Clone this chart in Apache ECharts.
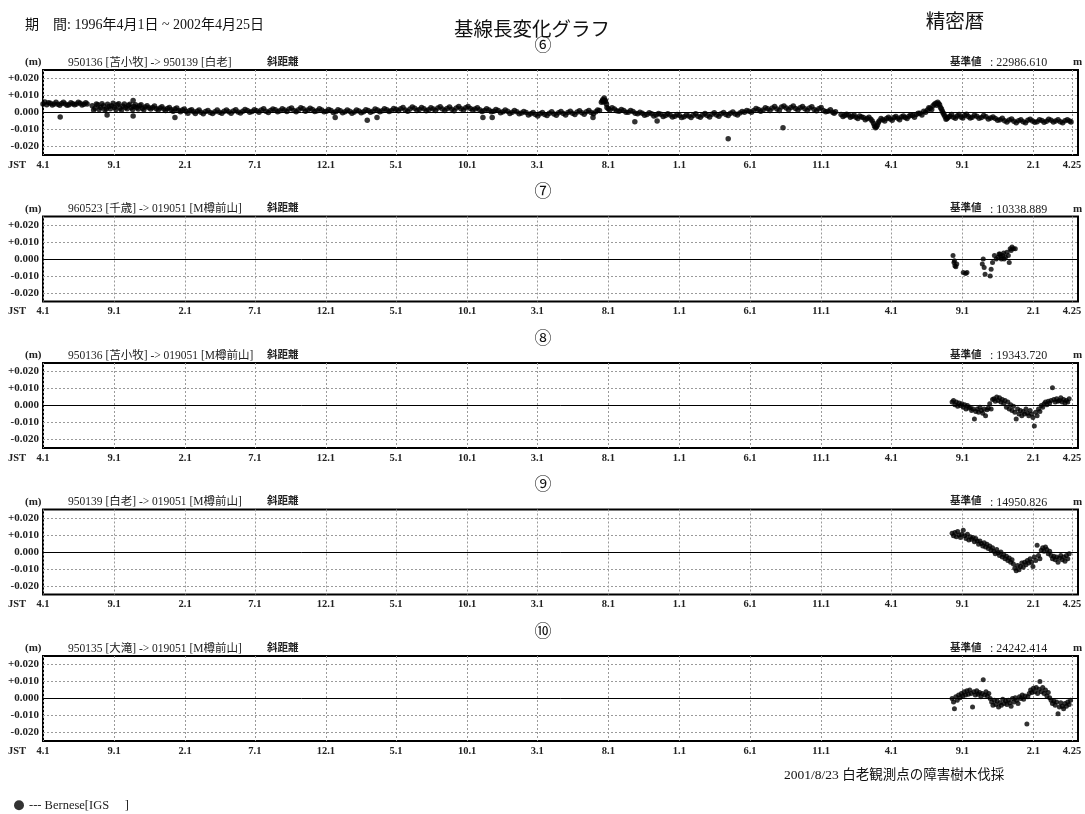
<!DOCTYPE html>
<html>
<head>
<meta charset="utf-8">
<script src="https://cdn.jsdelivr.net/npm/echarts@6/dist/echarts.min.js"></script>
<style>
html,body{margin:0;padding:0;background:#fff;}
#chart{width:1085px;height:814px;}
</style>
</head>
<body>
<div id="chart"></div>
<script>
// ---------- data ----------
const periodText = '期\u3000間: 1996年4月1日 ~ 2002年4月25日';
const chartTitle = '基線長変化グラフ';
const ephemerisText = '精密暦';
const panelCodes = ['⑥', '⑦', '⑧', '⑨', '⑩'];
const baselineNames = [
  '950136 [苫小牧] -> 950139 [白老]',
  '960523 [千歳] -> 019051 [M樽前山]',
  '950136 [苫小牧] -> 019051 [M樽前山]',
  '950139 [白老] -> 019051 [M樽前山]',
  '950135 [大滝] -> 019051 [M樽前山]'
];
const baseValues = ['22986.610', '10338.889', '19343.720', '14950.826', '24242.414'];
const noteText = '2001/8/23 白老観測点の障害樹木伐採';
const seriesName = 'Bernese[IGS     ]';

// days since 1996-04-01
const tickDays = [0, 153, 306, 456, 609, 760, 913, 1064, 1217, 1370, 1522, 1675, 1826, 1979, 2132, 2215];
const tickLabels = ['4.1', '9.1', '2.1', '7.1', '12.1', '5.1', '10.1', '3.1', '8.1', '1.1', '6.1', '11.1', '4.1', '9.1', '2.1', '4.25'];
const yTicks = [-0.02, -0.01, 0, 0.01, 0.02];

const data6 = [
[0,0.005],[4,0.0062],[8,0.0045],[12,0.0058],[16,0.0055],[20,0.0044],[24,0.005],[28,0.006],[32,0.0048],[36,0.0042],[40,0.0053],[44,0.0061],[48,0.005],[52,0.0043],[56,0.0046],[60,0.0058],[64,0.0052],[68,0.0045],[72,0.005],[76,0.006],[80,0.0055],[84,0.0044],[88,0.0049],[92,0.0057],[95,0.005],
[37,-0.0027],
[106,0.004],[109,0.0015],[112,0.0025],[115,0.005],[118,0.0045],[121,0.0018],[124,0.003],[127,0.0052],[130,0.004],[133,0.0016],[136,0.002],[139,0.0048],[142,0.0035],[145,0.0022],[148,0.004],[151,0.0055],[154,0.003],[157,0.0018],[160,0.0045],[163,0.0052],[166,0.0025],[169,0.0015],[172,0.0038],[175,0.005],[178,0.003],[181,0.0022],[184,0.0042],[187,0.0048],[190,0.0028],[193,0.0018],[196,0.0035],[199,0.0045],[202,0.003],[205,0.002],[208,0.004],[211,0.0046],[214,0.0025],[217,0.0016],[220,0.0032],[224,0.004],[228,0.0028],[232,0.002],[236,0.003],[240,0.0038],[244,0.0022],[248,0.0015],[252,0.0026],[256,0.0034],[260,0.002],[264,0.0012],[268,0.0024],[272,0.003],[276,0.0016],[280,0.0008],[284,0.002],[288,0.0026],[292,0.0012],[296,0.0004],[300,0.0015],[304,0.002],
[308,0.0008],[312,-0.0004],[316,0.0012],[320,0.0016],[324,0.0004],[328,-0.0006],[332,0.0008],[336,0.0014],[340,0.0002],[345,-0.0008],[350,0.0006],[355,0.0012],[360,0.0],[365,-0.0006],[370,0.0005],[375,0.0014],[380,0.0002],[385,-0.0005],[390,0.0008],[395,0.0015],[400,0.0004],[405,-0.0004],[410,0.0009],[415,0.0016],[420,0.0003],[425,-0.0003],[430,0.0007],[435,0.0018],[440,0.0012],[445,0.0002],[450,0.0006],[455,0.0016],[460,0.001],[465,0.0002],[470,0.0014],[475,0.0022],[480,0.0008],[485,0.0],[490,0.0012],[495,0.002],[500,0.0016],[505,0.0004],[510,0.001],[515,0.0022],[520,0.0015],[525,0.0006],[530,0.002],[535,0.0026],[540,0.0012],[545,0.0005],[550,0.0016],[555,0.0028],[560,0.0022],[565,0.0008],[570,0.0014],[575,0.0025],[580,0.0018],[585,0.0006],[590,0.001],[595,0.0022],[600,0.0015],[605,0.0004],
[610,0.0008],[615,0.0018],[620,0.0012],[625,0.0],[630,0.0005],[635,0.0016],[640,0.001],[645,-0.0002],[650,0.0004],[655,0.0014],[660,0.0008],[665,-0.0004],[670,0.0003],[675,0.0015],[680,0.0009],[685,-0.0002],[690,0.0005],[695,0.0016],[700,0.0012],[705,0.0002],[710,0.0008],[715,0.002],[720,0.0014],[725,0.0004],[730,0.001],[735,0.0022],[740,0.0016],[745,0.0006],[750,0.0012],[755,0.0024],[760,0.0018],[765,0.001],[770,0.0022],[775,0.003],[780,0.0015],[785,0.0008],[790,0.002],[795,0.0032],[800,0.0025],[805,0.0012],[810,0.0018],[815,0.003],[820,0.0022],[825,0.001],[830,0.0016],[835,0.0028],[840,0.0021],[845,0.0012],[850,0.0026],[855,0.0034],[860,0.002],[865,0.0012],[870,0.0024],[875,0.0032],[880,0.0019],[885,0.001],[890,0.0026],[895,0.0035],[900,0.0022],[905,0.0014],[910,0.0028],[915,0.0036],[920,0.0024],[925,0.0014],
[930,0.002],[935,0.0028],[940,0.0016],[945,0.0006],[950,0.0012],[955,0.0022],[960,0.0015],[965,0.0004],[970,0.0008],[975,0.0018],[980,0.0012],[985,-0.0002],[990,0.0005],[995,0.0014],[1000,0.0008],[1005,-0.0006],[1010,0.0002],[1015,0.0012],[1020,0.0004],[1025,-0.0008],[1030,-0.0003],[1035,0.0006],[1040,0.0],[1045,-0.0015],[1050,-0.0008],[1055,0.0],[1060,-0.0012],[1065,-0.002],[1070,-0.0008],[1075,0.0],[1080,-0.0012],[1085,-0.0018],[1090,-0.0005],[1095,0.0004],[1100,-0.0009],[1105,-0.0016],[1110,-0.0002],[1115,0.0006],[1120,-0.0006],[1125,-0.0014],[1130,0.0],[1135,0.0008],[1140,-0.0004],[1145,-0.0012],[1150,0.0003],[1155,0.001],[1160,-0.0002],[1165,-0.001],[1170,0.0004],[1175,0.0012],[1180,0.0],[1185,-0.0008],[1190,0.0005],[1194,0.0014],[1198,0.0012],
[1202,0.006],[1204,0.0068],[1205,0.0075],[1207,0.0062],[1208,0.0085],[1210,0.0072],[1211,0.0065],[1213,0.0048],[1214,0.003],[1217,0.0022],[1220,0.0015],[1225,0.0028],[1230,0.002],[1235,0.001],[1240,0.0008],[1245,0.0018],[1250,0.0012],[1255,0.0002],[1260,0.0002],[1265,0.0012],[1270,0.0006],[1275,-0.0004],[1280,-0.0008],[1285,0.0002],[1290,-0.0004],[1295,-0.0016],[1300,-0.0012],[1305,-0.0002],[1310,-0.0008],[1315,-0.002],[1320,-0.0015],[1325,-0.0006],[1330,-0.001],[1335,-0.0024],[1340,-0.0018],[1345,-0.0008],[1350,-0.0014],[1355,-0.0026],[1360,-0.0022],[1365,-0.0012],[1370,-0.0018],[1375,-0.003],[1380,-0.0025],[1385,-0.0014],[1390,-0.002],[1395,-0.003],[1400,-0.0016],[1405,-0.0008],[1410,-0.0022],[1415,-0.0028],[1420,-0.0014],[1425,-0.0006],[1430,-0.0018],[1435,-0.0026],[1440,-0.001],[1445,-0.0002],[1450,-0.0015],[1455,-0.0022],[1460,-0.0008],[1465,0.0],[1470,-0.0012],[1475,-0.0018],[1480,-0.0005],[1485,0.0003],[1490,-0.0009],[1495,-0.0014],[1500,-0.0003],[1505,0.0006],
[1510,0.0002],[1515,0.0012],[1520,0.0008],[1525,0.0002],[1530,0.0012],[1535,0.0024],[1540,0.0018],[1545,0.0008],[1550,0.0014],[1555,0.0028],[1560,0.0022],[1565,0.0012],[1570,0.0026],[1575,0.0036],[1580,0.002],[1585,0.0012],[1590,0.0032],[1595,0.0038],[1600,0.0026],[1605,0.0016],[1610,0.003],[1615,0.0038],[1620,0.0024],[1625,0.0014],[1630,0.0028],[1635,0.0036],[1640,0.0022],[1645,0.0012],[1650,0.0026],[1655,0.0034],[1660,0.0018],[1665,0.001],[1670,0.0022],[1675,0.003],[1680,0.0012],[1685,0.0004],[1690,0.0008],[1695,0.0016],[1700,0.0002],[1703,-0.0004],[1706,0.0005],
[1718,-0.0012],[1722,-0.0024],[1726,-0.0018],[1730,-0.001],[1734,-0.0015],[1738,-0.0028],[1742,-0.0022],[1746,-0.0014],[1750,-0.0028],[1754,-0.0036],[1758,-0.002],[1762,-0.0026],[1766,-0.003],[1770,-0.0042],[1774,-0.0035],[1778,-0.0028],[1782,-0.004],[1785,-0.005],[1788,-0.0065],[1790,-0.008],[1792,-0.009],[1794,-0.0085],[1796,-0.0075],[1798,-0.006],[1800,-0.005],[1804,-0.0036],[1808,-0.0042],[1812,-0.005],[1816,-0.0035],[1820,-0.0028],[1824,-0.0038],[1828,-0.0045],[1832,-0.003],[1836,-0.0024],[1840,-0.0034],[1844,-0.0042],[1848,-0.0026],[1852,-0.002],[1856,-0.003],[1860,-0.0036],[1864,-0.0022],[1868,-0.0014],[1872,-0.0018],[1876,-0.0028],[1880,-0.0012],[1884,-0.0004],[1888,-0.0005],[1892,-0.0014],
[1896,0.0008],[1900,0.0002],[1904,0.0015],[1907,0.0028],[1910,0.0025],[1913,0.0018],[1916,0.004],[1919,0.0048],[1922,0.0055],[1924,0.0042],[1926,0.006],[1928,0.0052],[1930,0.0045],[1932,0.003],[1934,0.002],[1936,0.0008],[1938,-0.0005],[1940,-0.0015],[1942,-0.0025],[1944,-0.004],[1946,-0.0035],[1949,-0.0028],[1952,-0.0022],[1956,-0.0012],[1960,-0.0028],[1964,-0.0034],[1968,-0.002],[1972,-0.0012],[1976,-0.0026],[1980,-0.0032],[1984,-0.0018],[1988,-0.001],[1992,-0.0024],[1996,-0.0032],[2000,-0.0028],[2005,-0.0016],[2010,-0.0022],[2015,-0.0034],[2020,-0.003],[2025,-0.0018],[2030,-0.0025],[2035,-0.0038],[2040,-0.0032],[2045,-0.0026],[2050,-0.0036],[2055,-0.0046],[2060,-0.0042],[2065,-0.0034],[2070,-0.0048],[2075,-0.0056],[2080,-0.0044],[2085,-0.0038],[2090,-0.0052],[2095,-0.006],[2100,-0.0048],[2105,-0.0042],[2110,-0.0054],[2115,-0.006],[2120,-0.0046],[2125,-0.004],[2130,-0.005],[2135,-0.0058],[2140,-0.0055],[2145,-0.0042],[2150,-0.0047],[2155,-0.0058],[2160,-0.0052],[2165,-0.004],[2170,-0.0045],[2175,-0.0056],[2180,-0.005],[2185,-0.0042],[2190,-0.0054],[2195,-0.006],[2200,-0.0048],[2205,-0.0042],[2210,-0.005],[2213,-0.0056],
[194,-0.002],[194,0.007],[138,-0.0015],[284,-0.003],[629,-0.003],[698,-0.0045],[719,-0.003],[947,-0.003],[967,-0.003],[1184,-0.003],[1274,-0.0055],[1322,-0.005],[1475,-0.0155],[1593,-0.009]
];

const data7 = [
[1959,0.002],[1961,-0.002],[1962,-0.001],[1963,-0.004],[1965,-0.0045],[1967,-0.003],[1981,-0.008],[1986,-0.0085],[1989,-0.008],[2022,-0.003],[2024,0.0],[2026,-0.005],[2028,-0.009],[2039,-0.01],[2041,-0.006],[2044,-0.002],[2048,0.002],[2052,0.0],[2056,0.001],[2058,0.003],[2060,0.003],[2062,0.0015],[2063,0.0],[2066,0.002],[2068,0.0035],[2069,0.0],[2072,0.001],[2075,0.004],[2078,0.002],[2080,-0.002],[2082,0.006],[2084,0.005],[2086,0.007],[2089,0.006],[2093,0.006]
];

const data8 = [
[1957,0.002],[1960,0.003],[1963,0.0005],[1966,0.002],[1969,-0.0005],[1972,0.0015],[1975,0.0],[1978,0.001],[1981,-0.001],[1984,0.0005],[1987,-0.002],[1990,0.0],[1993,-0.0015],[1996,-0.001],[1999,-0.003],[2002,-0.002],[2005,-0.008],[2008,-0.0035],[2011,-0.002],[2014,-0.004],[2017,-0.001],[2020,-0.003],[2023,-0.0045],[2026,-0.002],[2029,-0.006],[2032,-0.0025],[2035,-0.0015],[2038,0.001],[2041,-0.002],[2044,0.0035],[2047,0.004],[2050,0.0025],[2053,0.005],[2056,0.003],[2059,0.0045],[2062,0.002],[2065,0.0035],[2068,0.001],[2071,0.003],[2074,-0.001],[2077,0.002],[2080,-0.002],[2083,0.0005],[2086,-0.003],[2089,-0.0005],[2092,-0.004],[2095,-0.008],[2098,-0.002],[2101,-0.005],[2104,-0.003],[2107,-0.006],[2110,-0.0035],[2113,-0.005],[2116,-0.002],[2119,-0.0045],[2122,-0.006],[2125,-0.003],[2128,-0.005],[2131,-0.007],[2134,-0.012],[2137,-0.004],[2140,-0.006],[2143,-0.002],[2146,-0.0035],[2149,0.0],[2152,-0.001],[2155,0.001],[2158,0.002],[2161,0.0005],[2164,0.0025],[2167,0.0015],[2170,0.003],[2173,0.0105],[2176,0.0035],[2179,0.002],[2182,0.004],[2185,0.0025],[2188,0.003],[2191,0.0045],[2194,0.002],[2197,0.0035],[2200,0.0015],[2203,0.003],[2206,0.002],[2209,0.004]
];

const data9 = [
[1957,0.011],[1960,0.0095],[1963,0.0115],[1966,0.009],[1969,0.012],[1972,0.01],[1975,0.0085],[1978,0.0105],[1981,0.0128],[1984,0.0095],[1987,0.008],[1990,0.0105],[1993,0.007],[1996,0.009],[1999,0.0075],[2002,0.0085],[2005,0.006],[2008,0.008],[2011,0.0065],[2014,0.0045],[2017,0.0065],[2020,0.005],[2023,0.0035],[2026,0.0055],[2029,0.003],[2032,0.0045],[2035,0.002],[2038,0.0035],[2041,0.001],[2044,0.0025],[2047,0.0005],[2050,-0.001],[2053,0.0015],[2056,-0.0005],[2059,-0.002],[2062,0.0],[2065,-0.003],[2068,-0.0015],[2071,-0.004],[2074,-0.0025],[2077,-0.005],[2080,-0.0035],[2083,-0.006],[2086,-0.0045],[2089,-0.007],[2092,-0.0095],[2095,-0.011],[2098,-0.008],[2101,-0.0105],[2104,-0.0085],[2107,-0.0065],[2110,-0.009],[2113,-0.006],[2116,-0.0075],[2119,-0.005],[2122,-0.0065],[2125,-0.004],[2128,-0.006],[2131,-0.0085],[2134,-0.003],[2137,-0.005],[2140,0.004],[2143,-0.002],[2146,-0.004],[2149,0.001],[2152,0.0025],[2155,0.0005],[2158,0.003],[2161,0.0015],[2164,-0.001],[2167,0.0005],[2170,-0.002],[2173,-0.004],[2176,-0.0025],[2179,-0.0045],[2182,-0.003],[2185,-0.006],[2188,-0.0035],[2191,-0.002],[2194,-0.0045],[2197,-0.003],[2200,-0.0055],[2203,-0.002],[2206,-0.004],[2209,-0.001]
];

const data10 = [
[1957,0.0],[1960,-0.002],[1962,-0.006],[1965,0.001],[1968,-0.001],[1971,0.002],[1974,0.0005],[1977,0.003],[1980,0.0015],[1983,0.004],[1986,0.002],[1989,0.0045],[1992,0.0025],[1995,0.005],[1998,0.003],[2001,-0.005],[2004,0.004],[2007,0.002],[2010,0.0045],[2013,0.0025],[2016,0.0035],[2019,0.001],[2022,0.003],[2024,0.011],[2027,0.002],[2030,0.004],[2033,0.0015],[2036,0.003],[2039,0.0],[2042,-0.002],[2045,-0.004],[2048,-0.001],[2051,-0.0035],[2054,-0.0015],[2057,-0.005],[2060,-0.0025],[2063,-0.004],[2066,-0.0005],[2069,-0.003],[2072,-0.0015],[2075,-0.0035],[2078,-0.001],[2081,-0.0025],[2084,-0.0045],[2087,0.0],[2090,-0.002],[2093,0.0005],[2096,-0.001],[2099,-0.003],[2102,0.001],[2105,0.0],[2108,0.002],[2111,-0.0005],[2114,0.0015],[2118,-0.015],[2120,0.001],[2123,0.003],[2126,0.005],[2129,0.0035],[2132,0.006],[2135,0.004],[2138,0.0065],[2141,0.003],[2144,0.0055],[2146,0.01],[2149,0.004],[2152,0.0065],[2155,0.003],[2158,0.005],[2161,0.0015],[2164,0.0035],[2167,0.0005],[2170,-0.001],[2173,-0.003],[2176,-0.0015],[2179,-0.004],[2182,-0.002],[2185,-0.009],[2188,-0.005],[2191,-0.0025],[2194,-0.0045],[2197,-0.006],[2200,-0.003],[2203,-0.0045],[2206,-0.002],[2209,-0.0035],[2212,-0.001]
];

const panelData = [data6, data7, data8, data9, data10];

// ---------- layout ----------
const LEFT = 43, RIGHT = 7, H = 85;
const tops = [70, 216.5, 363, 509.5, 656];
const NUM_FONT = "'Liberation Serif', 'Noto Sans CJK JP', serif";
const JP_FONT = "'Liberation Serif', 'Noto Sans CJK JP', sans-serif";

const grids = [], xAxes = [], yAxes = [], series = [], titles = [];

titles.push({text: periodText, left: 20, top: 13, textStyle: {fontFamily: JP_FONT, fontSize: 14, fontWeight: 'normal', color: '#111'}});
titles.push({text: chartTitle, left: 527, top: 16, textAlign: 'center', textStyle: {fontFamily: JP_FONT, fontSize: 19.5, fontWeight: 'normal', color: '#111'}});
titles.push({text: ephemerisText, left: 950, top: 8, textAlign: 'center', textStyle: {fontFamily: JP_FONT, fontSize: 19.5, fontWeight: 'normal', color: '#111'}});
titles.push({text: noteText, left: 779, top: 764, textStyle: {fontFamily: JP_FONT, fontSize: 13.5, fontWeight: 'normal', color: '#111'}});

panelData.forEach((d, i) => {
  const t = tops[i];
  grids.push({left: LEFT, right: RIGHT, top: t, height: H, show: true, borderColor: '#000', borderWidth: 2,
    backgroundColor: 'transparent', containLabel: false, outerBoundsMode: 'none'});
  xAxes.push({
    gridIndex: i, type: 'value', min: 0, max: 2228,
    name: 'JST', nameLocation: 'start', nameGap: 17,
    nameTextStyle: {fontFamily: NUM_FONT, fontSize: 10.5, fontWeight: 'bold', color: '#222', verticalAlign: 'top', padding: [5, 0, 0, 0]},
    axisLine: {show: false, onZero: false},
    axisTick: {show: false, customValues: tickDays},
    axisLabel: {customValues: tickDays, margin: 5, fontFamily: NUM_FONT, fontSize: 10.5, fontWeight: 'bold', color: '#222',
      formatter: v => tickLabels[tickDays.indexOf(v)]},
    splitLine: {show: true, lineStyle: {color: '#9a9a9a', width: 1, type: [2, 2]}}
  });
  yAxes.push({
    gridIndex: i, type: 'value', min: -0.025, max: 0.025,
    axisLine: {show: false, onZero: false},
    axisTick: {show: false, customValues: yTicks},
    axisLabel: {customValues: yTicks, margin: 4, fontFamily: NUM_FONT, fontSize: 11, fontWeight: 'bold', color: '#222',
      formatter: v => (v > 0 ? '+' : '') + v.toFixed(3)},
    splitLine: {show: true, lineStyle: {color: '#9a9a9a', width: 1, type: [2, 2]}}
  });
  series.push({
    name: seriesName, type: 'scatter', xAxisIndex: i, yAxisIndex: i,
    data: d, symbol: 'circle', symbolSize: i === 0 ? 5.5 : 5,
    itemStyle: {color: '#000'},
    silent: true, animation: false,
    markLine: {silent: true, symbol: 'none', animation: false, label: {show: false},
      lineStyle: {color: '#000', width: 1, type: 'solid'}, data: [{yAxis: 0}]}
  });
  const hy = t - 18;
  titles.push({text: panelCodes[i], left: 538, top: t - 37, textAlign: 'center', textStyle: {fontFamily: JP_FONT, fontSize: 17, fontWeight: 'normal', color: '#111'}});
  titles.push({text: '(m)', left: 20, top: hy, textStyle: {fontFamily: NUM_FONT, fontSize: 11, fontWeight: 'bold', color: '#222'}});
  titles.push({text: baselineNames[i], left: 63, top: hy, textStyle: {fontFamily: JP_FONT, fontSize: 11.5, fontWeight: 'normal', color: '#222'}});
  titles.push({text: '斜距離', left: 262, top: hy, textStyle: {fontFamily: JP_FONT, fontSize: 10.5, fontWeight: 'bold', color: '#222'}});
  titles.push({text: '基準値', left: 945, top: hy, textStyle: {fontFamily: JP_FONT, fontSize: 10.5, fontWeight: 'bold', color: '#222'}});
  titles.push({text: ': ' + baseValues[i], left: 985, top: hy, textStyle: {fontFamily: NUM_FONT, fontSize: 12, fontWeight: 'normal', color: '#222'}});
  titles.push({text: 'm', left: 1068, top: hy, textStyle: {fontFamily: NUM_FONT, fontSize: 11, fontWeight: 'bold', color: '#222'}});
});

const chart = echarts.init(document.getElementById('chart'), null, {renderer: 'canvas'});
chart.setOption({
  backgroundColor: '#fff',
  animation: false,
  title: titles,
  legend: {
    data: [{name: seriesName, icon: 'circle'}],
    left: 9, top: 794, itemWidth: 10, itemHeight: 10, itemGap: 4,
    formatter: n => '--- ' + n,
    textStyle: {fontFamily: NUM_FONT, fontSize: 12.5, color: '#222'},
    selectedMode: false
  },
  grid: grids,
  xAxis: xAxes,
  yAxis: yAxes,
  series: series
});
</script>
</body>
</html>
